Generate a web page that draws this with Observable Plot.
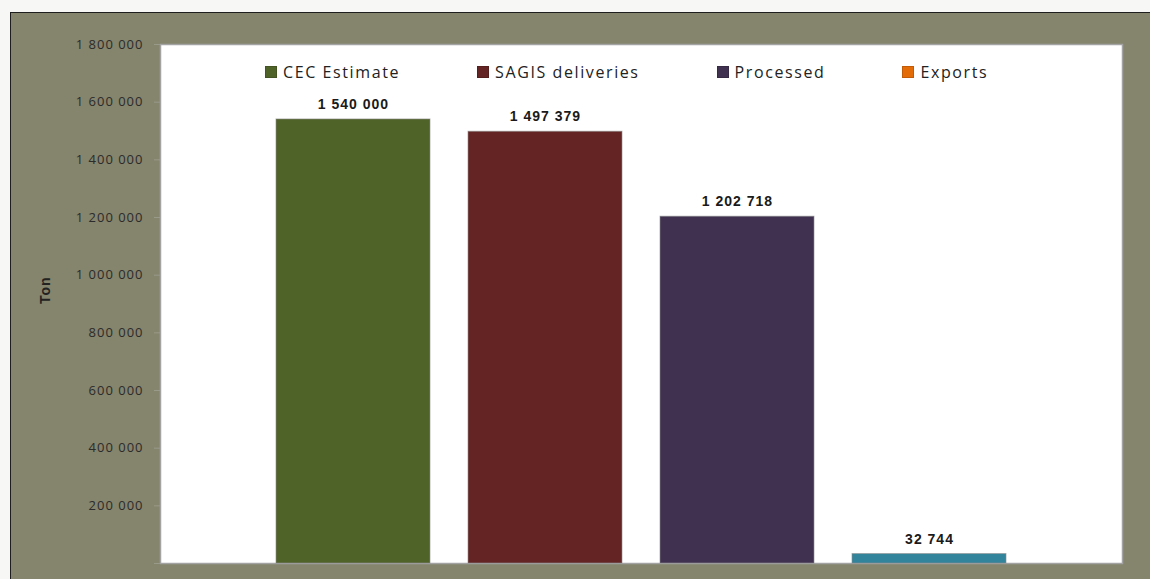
<!DOCTYPE html>
<html>
<head>
<meta charset="utf-8">
<script src="https://cdn.jsdelivr.net/npm/d3@7"></script>
<script src="https://cdn.jsdelivr.net/npm/@observablehq/plot@0.6"></script>
<style>
  html, body { margin: 0; padding: 0; background: #f7f7f5; width: 1150px; height: 579px; overflow: hidden; }
  #wrap { position: relative; width: 1150px; height: 579px; }
  #panel { position: absolute; left: 10px; top: 12px; width: 1140px; height: 567px; background: #85846c; border-left: 1.5px solid #1e1e1e; border-top: 1.5px solid #1e1e1e; box-sizing: border-box; }
  #chart { position: absolute; left: 0; top: 0; }
  #legend { position: absolute; left: 265px; top: 61px; display: flex; font-family: "Open Sans", sans-serif; font-size: 16px; letter-spacing: 1.6px; color: #222; }
  #legend .item { position: absolute; display: flex; align-items: center; white-space: nowrap; }
  #legend .sw { width: 12px; height: 12px; margin-right: 6px; box-sizing: border-box; border: 1px solid rgba(0,0,0,0.15); }
</style>
</head>
<body>
<div id="wrap">
  <div id="panel"></div>
  <div id="chart"></div>
  <div id="legend"></div>
</div>
<script>
const categories = ["CEC Estimate", "SAGIS deliveries", "Processed", "Exports"];
const values = [1540000, 1497379, 1202718, 32744];
const barColors = ["#4f6228", "#632423", "#403151", "#31849b"];
const legendColors = ["#4f6228", "#632423", "#403151", "#e36c09"];
const yTicks = [0, 200000, 400000, 600000, 800000, 1000000, 1200000, 1400000, 1600000, 1800000];
const yLabel = "Ton";

const fmt = d3.formatLocale({thousands: " ", grouping: [3], decimal: ".", currency: ["", ""]}).format(",");
const data = categories.map((c, i) => ({category: c, value: values[i], color: barColors[i]}));

const chart = Plot.plot({
  width: 1150,
  height: 579,
  marginLeft: 160,
  marginRight: 28,
  marginTop: 44,
  marginBottom: 16,
  style: {background: "transparent", fontFamily: "'Open Sans', sans-serif", fontSize: "13px", letterSpacing: "1px", overflow: "visible"},
  x: {domain: categories, paddingInner: 0.2, paddingOuter: 0.6, axis: null},
  y: {domain: [0, 1800000], axis: null},
  marks: [
    Plot.frame({fill: "white", stroke: "#a3a3a3", strokeWidth: 1.5}),
    Plot.barY(data, {x: "category", y: "value", fill: "color", stroke: "#8c8c8c", strokeWidth: 1, strokeOpacity: 0.6}),
    Plot.text(data, {x: "category", y: "value", text: d => fmt(d.value), dy: -15, fontWeight: "bold", fontSize: 14, fill: "#1a1a1a", fontFamily: "'Liberation Sans', Arial, sans-serif"}),
    Plot.axisY({ticks: yTicks, tickFormat: d => d === 0 ? "" : fmt(d), tickSize: 6, tickPadding: 11, stroke: "#9a9a8a", fill: "#2b2b2b", label: null}),
    Plot.text([yLabel], {frameAnchor: "left", dx: -115, rotate: -90, text: d => d, fontWeight: "bold", fontSize: 14, fill: "#222", fontFamily: "'Liberation Sans', Arial, sans-serif"})
  ]
});
document.getElementById("chart").appendChild(chart);

const legend = document.getElementById("legend");
legend.style.display = "flex";
legend.style.gap = "77px";
categories.forEach((c, i) => {
  const item = document.createElement("div");
  item.className = "item";
  item.style.position = "static";
  const sw = document.createElement("span");
  sw.className = "sw";
  sw.style.background = legendColors[i];
  const t = document.createElement("span");
  t.textContent = c;
  item.appendChild(sw);
  item.appendChild(t);
  legend.appendChild(item);
});
</script>
</body>
</html>
